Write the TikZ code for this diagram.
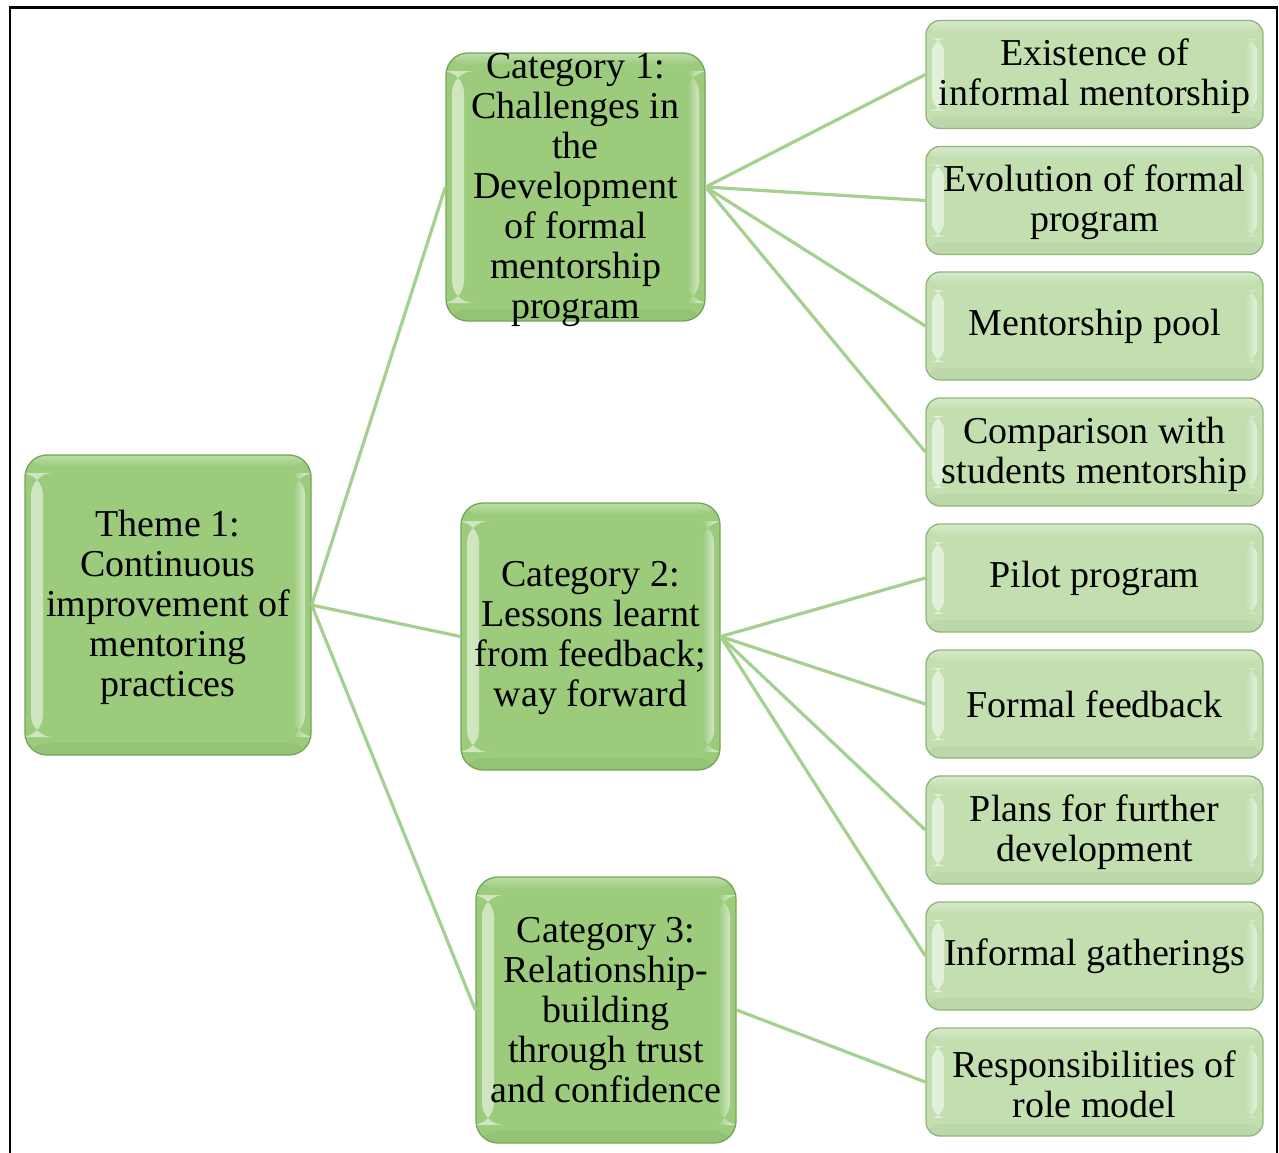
\documentclass[tikz,border=0pt]{standalone}
\usepackage{fontspec}
\setmainfont{Liberation Serif}
\usetikzlibrary{calc}
\definecolor{bigfill}{HTML}{9BCB7B}
\definecolor{bigborder}{HTML}{74A65A}
\definecolor{smallfill}{HTML}{C3DFB0}
\definecolor{smallborder}{HTML}{8FB67A}
\definecolor{linkgreen}{HTML}{A6D08F}
\tikzset{
  bevel/.style={path picture={
    \shade[left color=white, right color=#1, opacity=0.55]
      ($(path picture bounding box.north west)+(6pt,-18pt)$) rectangle
      ($(path picture bounding box.south west)+(18pt,18pt)$);
    \shade[left color=#1, right color=white, opacity=0.55]
      ($(path picture bounding box.north east)+(-18pt,-18pt)$) rectangle
      ($(path picture bounding box.south east)+(-6pt,18pt)$);
    \shade[top color=white, bottom color=#1, opacity=0.35]
      ($(path picture bounding box.north west)+(0pt,0pt)$) rectangle
      ($(path picture bounding box.north east)+(0pt,-12pt)$);
    \fill[black, opacity=0.035]
      ($(path picture bounding box.south west)+(0pt,0pt)$) rectangle
      ($(path picture bounding box.south east)+(0pt,12pt)$);
  }},
  bigbox/.style={draw=bigborder, line width=1.3pt, rounded corners=22pt,
    fill=bigfill, inner sep=0pt, bevel=bigfill},
  smallbox/.style={draw=smallborder, line width=1.3pt, rounded corners=14pt,
    fill=smallfill, inner sep=0pt, minimum width=337pt, minimum height=108pt,
    bevel=smallfill},
  lbl/.style={font=\fontsize{38}{40}\selectfont, align=center, text=black, inner sep=0pt},
  conn/.style={draw=linkgreen, line width=3.2pt}
}
\begin{document}
\begin{tikzpicture}[x=1pt,y=1pt]
\useasboundingbox (0,0) rectangle (1279,-1152);
\fill[white] (0,0) rectangle (1279,-1152);
\draw[line width=2.6pt] (10,-1160) -- (10,-7.5) -- (1277,-7.5) -- (1277,-1160);

% main nodes
\node[bigbox, minimum width=286pt, minimum height=300pt] (theme) at (168,-605) {};
\node[bigbox, minimum width=259pt, minimum height=268pt] (cat1) at (575.5,-187) {};
\node[bigbox, minimum width=259pt, minimum height=267pt] (cat2) at (590.5,-636.5) {};
\node[bigbox, minimum width=260pt, minimum height=266pt] (cat3) at (606,-1010) {};

% sub nodes
\node[smallbox] (s1) at (1094.5,-74.5) {};
\node[smallbox] (s2) at (1094.5,-200.5) {};
\node[smallbox] (s3) at (1094.5,-326) {};
\node[smallbox] (s4) at (1094.5,-452) {};
\node[smallbox] (s5) at (1094.5,-578) {};
\node[smallbox] (s6) at (1094.5,-704) {};
\node[smallbox] (s7) at (1094.5,-830) {};
\node[smallbox] (s8) at (1094.5,-956) {};
\node[smallbox] (s9) at (1094.5,-1082) {};

% connectors
\draw[conn] (theme.east) -- (cat1.west);
\draw[conn] (theme.east) -- (cat2.west);
\draw[conn] (theme.east) -- (cat3.west);
\foreach \s in {s1,s2,s3,s4} \draw[conn] (cat1.east) -- (\s.west);
\foreach \s in {s5,s6,s7,s8} \draw[conn] (cat2.east) -- (\s.west);
\draw[conn] (cat3.east) -- (s9.west);

% labels
\node[lbl] (ttheme) at ($(theme)+(0,-2)$) {Theme 1:\\Continuous\\improvement of\\mentoring\\practices};
\node[lbl] (tcat1) at ($(cat1)+(0,-3)$) {Category 1:\\Challenges in\\the\\Development\\of formal\\mentorship\\program};
\node[lbl] (tcat2) at ($(cat2)+(0,-2)$) {Category 2:\\Lessons learnt\\from feedback;\\way forward};
\node[lbl] (tcat3) at (cat3) {Category 3:\\Relationship-\\building\\through trust\\and confidence};
\node[lbl] (ts1) at ($(s1)+(0,-2)$) {Existence of\\informal mentorship};
\node[lbl] (ts2) at ($(s2)+(0,-2)$) {Evolution of formal\\program};
\node[lbl] (ts3) at (s3) {Mentorship pool};
\node[lbl] (ts4) at ($(s4)+(0,-2)$) {Comparison with\\students mentorship};
\node[lbl] (ts5) at (s5) {Pilot program};
\node[lbl] (ts6) at (s6) {Formal feedback};
\node[lbl] (ts7) at ($(s7)+(0,-2)$) {Plans for further\\development};
\node[lbl] (ts8) at (s8) {Informal gatherings};
\node[lbl] (ts9) at ($(s9)+(0,-2)$) {Responsibilities of\\role model};
\end{tikzpicture}
\end{document}
